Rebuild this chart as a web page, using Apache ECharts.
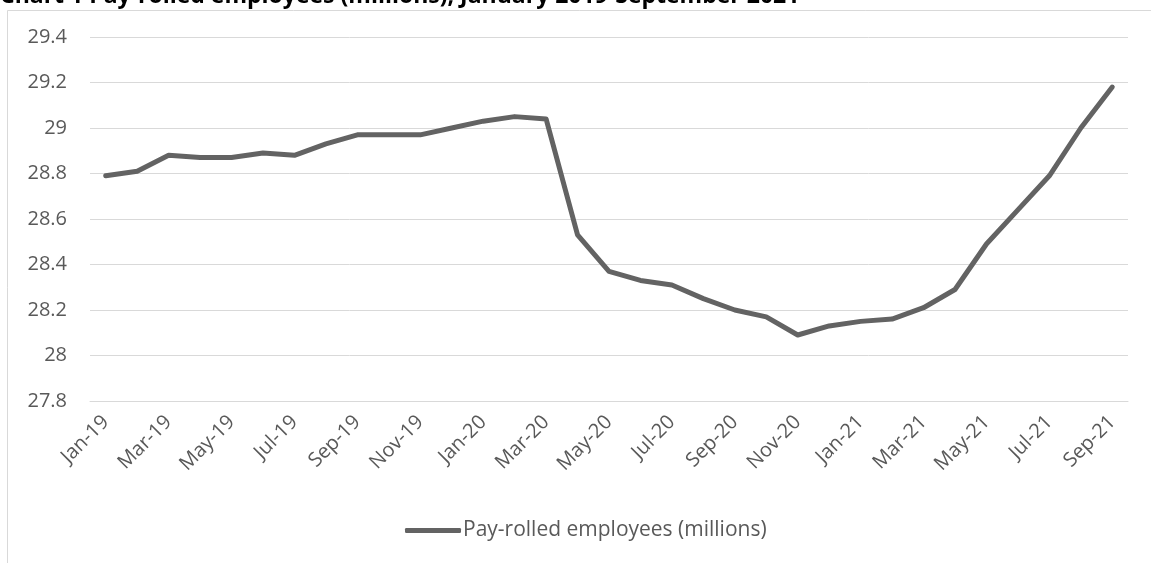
<!DOCTYPE html>
<html>
<head>
<meta charset="utf-8">
<title>Pay-rolled employees</title>
<script src="https://cdn.jsdelivr.net/npm/echarts@6/dist/echarts.min.js"></script>
<style>
  html, body { margin: 0; padding: 0; background: #fff; }
  #main { width: 1151px; height: 563px; }
</style>
</head>
<body>
<div id="main"></div>
<script>
// months Jan-19 .. Sep-21
var months = ['Jan-19','Feb-19','Mar-19','Apr-19','May-19','Jun-19','Jul-19','Aug-19','Sep-19','Oct-19','Nov-19','Dec-19',
  'Jan-20','Feb-20','Mar-20','Apr-20','May-20','Jun-20','Jul-20','Aug-20','Sep-20','Oct-20','Nov-20','Dec-20',
  'Jan-21','Feb-21','Mar-21','Apr-21','May-21','Jun-21','Jul-21','Aug-21','Sep-21'];
var employees = [28.79, 28.81, 28.88, 28.87, 28.87, 28.89, 28.88, 28.93, 28.97, 28.97, 28.97, 29.00,
  29.03, 29.05, 29.04, 28.53, 28.37, 28.33, 28.31, 28.25, 28.20, 28.17, 28.09, 28.13,
  28.15, 28.16, 28.21, 28.29, 28.49, 28.64, 28.79, 29.00, 29.18];
var seriesName = 'Pay-rolled employees (millions)';
var chartTitle = 'Chart 1 Pay-rolled employees (millions), January 2019-September 2021';

var font = '"Open Sans", "Noto Sans", sans-serif';
var myChart = echarts.init(document.getElementById('main'));
var option = {
  animation: false,
  backgroundColor: '#fff',
  title: {
    text: chartTitle,
    left: -5,
    top: -20,
    textStyle: { fontSize: 23, fontWeight: 'bold', color: '#000', fontFamily: font }
  },
  graphic: [{
    type: 'rect',
    shape: { x: 7.5, y: 10.5, width: 1200, height: 600 },
    style: { fill: 'none', stroke: '#d9d9d9', lineWidth: 1 },
    silent: true
  }],
  grid: { left: 90, right: 23, top: 37, bottom: 162 },
  legend: {
    top: 515,
    left: 400,
    itemWidth: 56,
    itemHeight: 5,
    itemGap: 0,
    icon: 'roundRect',
    data: [seriesName],
    textStyle: { fontSize: 21, color: '#595959', fontFamily: font, padding: [0, 0, 0, -3] }
  },
  xAxis: {
    type: 'category',
    data: months,
    boundaryGap: true,
    axisLine: { lineStyle: { color: '#d9d9d9' } },
    axisTick: { show: false },
    axisLabel: { interval: 1, rotate: 45, fontSize: 20, color: '#595959', fontFamily: font, margin: 18 }
  },
  yAxis: {
    type: 'value',
    min: 27.8,
    max: 29.4,
    interval: 0.2,
    axisLine: { show: false },
    axisTick: { show: false },
    splitLine: { lineStyle: { color: '#d9d9d9', width: 1 } },
    axisLabel: {
      fontSize: 20, color: '#595959', fontFamily: font, margin: 23,
      formatter: function (v) { return String(parseFloat(v.toFixed(1))); }
    }
  },
  series: [{
    name: seriesName,
    type: 'line',
    data: employees,
    symbol: 'none',
    lineStyle: { color: '#636363', width: 5, cap: 'round', join: 'round' },
    itemStyle: { color: '#636363' }
  }]
};
myChart.setOption(option);
</script>
</body>
</html>
